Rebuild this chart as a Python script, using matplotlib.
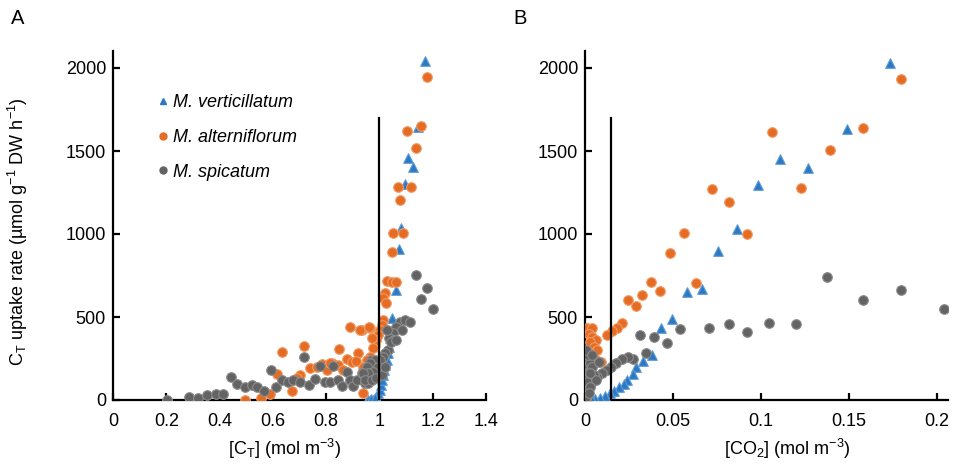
import matplotlib
matplotlib.use("Agg")
import matplotlib.pyplot as plt
from matplotlib.lines import Line2D

plt.rcParams['font.family'] = ['Liberation Sans', 'DejaVu Sans']
plt.rcParams['mathtext.fontset'] = 'custom'
plt.rcParams['mathtext.rm'] = 'Liberation Sans'
plt.rcParams['mathtext.it'] = 'Liberation Sans:italic'

# ---------------- data ----------------
series_names = ["M. verticillatum", "M. alterniflorum", "M. spicatum"]

# Panel A: [CT] (mol m-3) vs uptake rate
a_vert_x = [1.171, 1.146, 1.108, 1.127, 1.096, 1.081, 1.073, 1.062, 1.046,
            0.952, 0.964, 0.977, 0.987, 0.996, 1.002, 1.006, 1.011, 1.014,
            1.018, 1.022, 1.027, 1.032, 1.037, 1.039, 0.958, 0.970, 0.982]
a_vert_y = [2045, 1643, 1456, 1402, 1301, 1038, 908, 663, 492,
            0, 0, 0, 20, 40, 60, 90, 120, 150,
            181, 211, 241, 281, 321, 372, 0, 5, 10]

a_alt_x = [1.177, 1.156, 1.102, 1.137, 1.068, 1.118, 1.078, 1.052, 1.089, 1.046,
           1.027, 1.046, 1.062, 1.021, 1.014, 1.024,
           1.014, 1.008, 1.002, 0.996, 0.989, 0.983, 0.971, 0.977, 0.964, 0.933,
           0.964, 0.952, 0.939, 0.940,
           0.889, 0.927, 0.962, 0.921, 0.877, 0.849, 0.717, 0.635, 0.614, 0.670,
           0.554, 0.494, 0.589, 0.739, 0.783, 0.821, 0.846, 0.802, 0.864, 0.896,
           0.702, 0.689, 0.912, 0.814, 0.765]
a_alt_y = [1948, 1651, 1620, 1516, 1285, 1285, 1203, 1008, 1008, 890,
           719, 713, 713, 643, 612, 582,
           482, 452, 422, 392, 361, 331, 372, 311, 432, 422,
           261, 241, 201, 40,
           442, 422, 442, 281, 245, 307, 327, 287, 157, 54,
           14, 0, 36, 191, 217, 221, 211, 181, 181, 231,
           151, 130, 237, 225, 200]

a_spi_x = [0.2015, 0.286, 0.320, 0.354, 0.385, 0.414, 0.4415, 0.466, 0.494, 0.5216,
           0.5416, 0.5678, 0.6116, 0.592, 0.717, 0.633, 0.658, 0.677, 0.702, 0.737,
           0.758, 0.777, 0.827, 0.795, 0.814, 0.846, 0.858, 0.877, 0.889, 0.902,
           0.914, 0.933, 0.946, 0.967, 0.958,
           1.077, 1.096, 1.114, 1.064, 1.083, 1.052, 1.037, 1.054, 1.027, 1.033,
           1.021, 1.014, 1.002, 0.983, 0.964, 0.952, 0.996, 0.977, 0.958, 0.939,
           0.946, 0.971, 0.989, 1.008, 1.021, 1.042, 1.062,
           1.136, 1.177, 1.156, 1.202]
a_spi_y = [0, 20, 14, 30, 36, 36, 141, 96, 80, 88,
           80, 56, 76, 181, 261, 120, 110, 120, 110, 90,
           125, 205, 205, 110, 110, 120, 84, 171, 120, 84,
           120, 161, 100, 241, 100,
           472, 482, 472, 442, 422, 402, 372, 361, 422, 301,
           281, 261, 241, 241, 221, 201, 201, 171, 161, 161,
           120, 120, 130, 150, 201, 351, 361,
           751, 673, 608, 550]

# Panel B: [CO2] (mol m-3) vs uptake rate
b_vert_x = [0.1733, 0.149, 0.1106, 0.1269, 0.0985, 0.0866, 0.0758, 0.0663, 0.0581,
            0.0496, 0.0432, 0.0383, 0.0331, 0.0288, 0.0275, 0.024, 0.0222, 0.0195,
            0.0166, 0.0142, 0.0114, 0.0085, 0.0057, 0.0038]
b_vert_y = [2032, 1635, 1452, 1396, 1295, 1030, 900, 667, 652,
            486, 432, 271, 237, 201, 155, 120, 96, 76,
            56, 40, 24, 15, 6, 0]

b_alt_x = [0.1794, 0.158, 0.1061, 0.139, 0.1227, 0.072, 0.082, 0.0919, 0.056, 0.0483,
           0.0375, 0.063, 0.0426, 0.0326, 0.0246, 0.0288, 0.0211, 0.0183, 0.0155, 0.0123,
           0.001, 0.0038, 0.002, 0.004, 0.006, 0.003, 0.005, 0.007, 0.002, 0.004,
           0.006, 0.009, 0.003, 0.001, 0.005, 0.0008, 0.0015]
b_alt_y = [1936, 1641, 1613, 1506, 1279, 1271, 1195, 998, 1004, 887,
           709, 703, 657, 630, 602, 566, 466, 435, 415, 392,
           432, 432, 400, 380, 360, 350, 320, 300, 290, 260,
           240, 230, 210, 180, 150, 10, 35]

b_spi_x = [0.1375, 0.1794, 0.158, 0.2038, 0.1045, 0.1197, 0.0919, 0.082, 0.0706, 0.054,
           0.0313, 0.0392, 0.0464, 0.0347, 0.0275, 0.0242, 0.0208, 0.0174, 0.0148, 0.0123,
           0.0095, 0.0066, 0.0038,
           0.0, 0.0, 0.0, 0.0, 0.0, 0.0, 0.0005, 0.001, 0.001, 0.002, 0.003, 0.0015,
           0.004, 0.005, 0.006, 0.003, 0.002, 0.0008, 0.004, 0.008, 0.003]
b_spi_y = [739, 665, 604, 546, 464, 458, 410, 458, 432, 426,
           392, 378, 345, 285, 245, 261, 245, 221, 197, 181,
           161, 141, 110,
           241, 193, 139, 90, 42, 0, 20, 60, 110, 170, 220, 270,
           200, 150, 120, 80, 40, 300, 270, 230, 160]

a_xticks = [0, 0.2, 0.4, 0.6, 0.8, 1.0, 1.2, 1.4]
a_xticklabels = ["0", "0.2", "0.4", "0.6", "0.8", "1", "1.2", "1.4"]
b_xticks = [0, 0.05, 0.1, 0.15, 0.2]
b_xticklabels = ["0", "0.05", "0.1", "0.15", "0.2"]
yticks = [0, 500, 1000, 1500, 2000]
yticklabels = ["0", "500", "1000", "1500", "2000"]

a_vline_x = 1.0
b_vline_x = 0.015
vline_top = 1700

# ---------------- style ----------------
BLUE = "#2E78C2"
ORANGE = "#E46C24"
GREY = "#636363"
EDGE = {BLUE: "#5A9BD8", ORANGE: "#F29A62", GREY: "#8C8C8C"}

W, H = 955, 468
fig = plt.figure(figsize=(W / 100, H / 100), dpi=100)

def px_axes(left, right, top, bottom):
    return fig.add_axes([left / W, (H - bottom) / H, (right - left) / W, (bottom - top) / H])

axA = px_axes(113, 486, 51.4, 400)
axB = px_axes(585, 585 + 0.206 * 1760, 51.4, 400)

def style(ax, xlim, xticks, xticklabels):
    ax.set_xlim(*xlim)
    ax.set_ylim(0, 2100)
    for s in ("top", "right"):
        ax.spines[s].set_visible(False)
    for s in ("left", "bottom"):
        ax.spines[s].set_linewidth(1.6)
        ax.spines[s].set_color("black")
    ax.set_xticks(xticks)
    ax.set_xticklabels(xticklabels)
    ax.set_yticks(yticks)
    ax.set_yticklabels(yticklabels)
    ax.tick_params(direction="in", length=5, width=1.6, labelsize=13, colors="black")
    ax.tick_params(axis="x", pad=9)
    ax.tick_params(axis="y", pad=5)

def scatter_all(ax, vx, vy, ax_, ay, sx, sy):
    ax.scatter(vx, vy, marker="^", s=48, color=BLUE, edgecolors=EDGE[BLUE], linewidths=0.8, zorder=3)
    ax.scatter(ax_, ay, marker="o", s=48, color=ORANGE, edgecolors=EDGE[ORANGE], linewidths=0.8, zorder=4)
    ax.scatter(sx, sy, marker="o", s=48, color=GREY, edgecolors=EDGE[GREY], linewidths=0.8, zorder=5)

style(axA, (0, 1.4), a_xticks, a_xticklabels)
style(axB, (0, 0.206), b_xticks, b_xticklabels)

scatter_all(axA, a_vert_x, a_vert_y, a_alt_x, a_alt_y, a_spi_x, a_spi_y)
scatter_all(axB, b_vert_x, b_vert_y, b_alt_x, b_alt_y, b_spi_x, b_spi_y)

axA.plot([a_vline_x, a_vline_x], [0, vline_top], color="black", lw=1.6, zorder=6)
axB.plot([b_vline_x, b_vline_x], [0, vline_top], color="black", lw=1.6, zorder=6)

axA.set_xlabel(r"[C$_\mathrm{T}$] (mol m$^{-3}$)", fontsize=13)
axA.xaxis.set_label_coords((285 - 113) / 373, -0.105)
axB.set_xlabel(r"[CO$_2$] (mol m$^{-3}$)", fontsize=13)
axB.xaxis.set_label_coords((787 - 585) / 362.6, -0.105)
axA.set_ylabel(r"C$_\mathrm{T}$ uptake rate (µmol g$^{-1}$ DW h$^{-1}$)", fontsize=13)
axA.yaxis.set_label_coords(-(113 - 30) / 373, (400 - 232) / 348.6)

fig.text(11 / W, 1 - 19 / H, "A", fontsize=14.5, va="center", ha="left")
fig.text(513 / W, 1 - 19 / H, "B", fontsize=14.5, va="center", ha="left")

handles = [
    Line2D([], [], marker="^", ls="none", color=BLUE, markersize=5),
    Line2D([], [], marker="o", ls="none", color=ORANGE, markersize=5),
    Line2D([], [], marker="o", ls="none", color=GREY, markersize=5),
]
axA.legend(handles, series_names, loc="upper left",
           bbox_to_anchor=((148 - 113) / 373, (400 - 87) / 348.6),
           frameon=False, prop={"style": "italic", "size": 13},
           handletextpad=0.1, handlelength=0.9, labelspacing=0.98, borderaxespad=0)

fig.savefig("out.png", dpi=100)
